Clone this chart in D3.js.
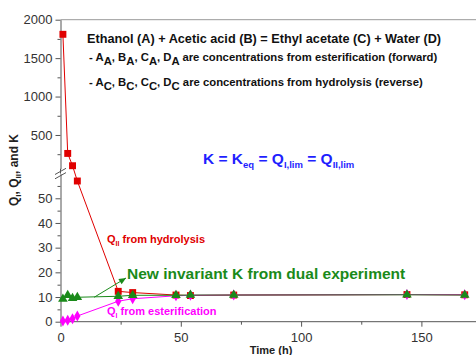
<!DOCTYPE html>
<html><head><meta charset="utf-8">
<script src="https://cdn.jsdelivr.net/npm/d3@7"></script>
<style>body{margin:0;background:#fff}svg{display:block;font-family:"Liberation Sans",Arial,sans-serif}</style>
</head><body><svg id="c" width="476" height="355"></svg>
<script>
const time = [1, 3, 5, 7, 24, 30, 48, 54, 72, 144, 168];
const qII  = [1810, 260, 100, 57, 12.3, 11.8, 10.8, 10.6, 10.8, 11.0, 10.9];
const kInv = [9.2, 10.7, 9.5, 9.9, 10.3, 10.7, 10.7, 10.8, 10.8, 10.9, 10.8];
const qI   = [0.3, 0.6, 1.2, 2.3, 8.3, 9.3, 10.5, 10.7, 10.8, 11.0, 10.9];
const xTicks = [0, 50, 100, 150];
const xMinor = [25, 75, 125, 175];
const yLowTicks = [0, 10, 20, 30, 40, 50];
const yLowMinor = [5, 15, 25, 35, 45, 55];
const yUpTicks = [500, 1000, 1500, 2000];
const yUpMinor = [250, 750, 1250, 1750];

const RED = "#e00000", GREEN = "#1a8a1a", MAG = "#ff00ff", BLUE = "#1f1fff", AX = "#555";
const svg = d3.select("#c");
const x = d3.scaleLinear().domain([0, 175]).range([60.5, 60.5 + 175 * 2.406]);
const yLow = d3.scaleLinear().domain([0, 60]).range([321.7, 173.6]);
const yUp = d3.scaleLinear().domain([60, 2000]).range([168.8, 19.7]);
const y = v => v <= 60 ? yLow(v) : yUp(v);
const fmt = d3.format("d");

// frame top
svg.append("line").attr("x1", x(0)).attr("x2", 476).attr("y1", yUp(2000)).attr("y2", yUp(2000)).attr("stroke", "#999").attr("stroke-width", 1);

function styleAxis(g) {
  g.selectAll("path,line").attr("stroke", AX);
  g.selectAll("text").attr("fill", "#333").style("font-size", "13px").style("font-family", '"Liberation Sans",Arial,sans-serif');
}
// x axis
const gx = svg.append("g").attr("transform", `translate(0,${yLow(0)})`)
  .call(d3.axisBottom(x).tickValues(xTicks).tickFormat(fmt).tickSize(5).tickSizeOuter(0).tickPadding(6));
styleAxis(gx);
gx.select(".domain").attr("d", `M${x(0)},0H476`);
svg.append("g").attr("transform", `translate(0,${yLow(0)})`)
  .call(d3.axisBottom(x).tickValues(xMinor).tickSize(3).tickFormat("")).call(g => g.select(".domain").remove()).call(styleAxis);

// y axes
const gyl = svg.append("g").attr("transform", `translate(${x(0)},0)`)
  .call(d3.axisLeft(yLow).tickValues(yLowTicks).tickFormat(fmt).tickSize(5).tickSizeOuter(0).tickPadding(3));
styleAxis(gyl);
svg.append("g").attr("transform", `translate(${x(0)},0)`)
  .call(d3.axisLeft(yLow).tickValues(yLowMinor).tickSize(3).tickFormat("")).call(g => g.select(".domain").remove()).call(styleAxis);
const gyu = svg.append("g").attr("transform", `translate(${x(0)},0)`)
  .call(d3.axisLeft(yUp).tickValues(yUpTicks).tickFormat(fmt).tickSize(5).tickSizeOuter(0).tickPadding(3));
styleAxis(gyu);
svg.append("g").attr("transform", `translate(${x(0)},0)`)
  .call(d3.axisLeft(yUp).tickValues(yUpMinor).tickSize(3).tickFormat("")).call(g => g.select(".domain").remove()).call(styleAxis);
// join axis across the break
svg.append("line").attr("x1", x(0)).attr("x2", x(0)).attr("y1", yUp(60)).attr("y2", yLow(60)).attr("stroke", AX);
// break marks
[[55, 174.5, 66, 168.3], [55, 178.8, 66, 172.6]].forEach(d =>
  svg.append("line").attr("x1", d[0]).attr("y1", d[1]).attr("x2", d[2]).attr("y2", d[3]).attr("stroke", AX).attr("stroke-width", 1));

// axis titles
svg.append("text").attr("x", x(87.5)).attr("y", 354).attr("text-anchor", "middle")
  .style("font-size", "11px").style("font-weight", "bold").attr("fill", "#222").text("Time (h)");
const yl = svg.append("text").attr("transform", "translate(18,170) rotate(-90)").attr("text-anchor", "middle")
  .style("font-size", "12px").style("font-weight", "bold").attr("fill", "#222");
yl.append("tspan").text("Q");
yl.append("tspan").attr("dy", 3).style("font-size", "8px").text("I");
yl.append("tspan").attr("dy", -3).text(", Q");
yl.append("tspan").attr("dy", 3).style("font-size", "8px").text("II");
yl.append("tspan").attr("dy", -3).text(", and K");

// series
const pts = arr => time.map((t, i) => [x(t), y(arr[i])]);
const line = d3.line();
function series(arr, color, symbolType, size) {
  svg.append("path").attr("d", line(pts(arr))).attr("fill", "none").attr("stroke", color).attr("stroke-width", 1);
  svg.append("g").selectAll("path").data(pts(arr)).join("path")
    .attr("transform", d => `translate(${d[0]},${d[1]})`)
    .attr("d", d3.symbol().type(symbolType).size(size)).attr("fill", color);
}
series(qII, RED, d3.symbolSquare, 48);
series(qI, MAG, d3.symbolDiamond, 34);
series(kInv, GREEN, d3.symbolTriangle, 40);

// green arrow to label
const ax0 = x(14), ay0 = y(9.9), ax1 = 126, ay1 = 278;
svg.append("line").attr("x1", ax0).attr("y1", ay0).attr("x2", ax1).attr("y2", ay1).attr("stroke", GREEN).attr("stroke-width", 1);
const ang = Math.atan2(ay1 - ay0, ax1 - ax0);
const hl = 7, hw = 3.2;
svg.append("path").attr("fill", GREEN).attr("d",
  `M${ax1},${ay1}L${ax1 - hl * Math.cos(ang) + hw * Math.sin(ang)},${ay1 - hl * Math.sin(ang) - hw * Math.cos(ang)}` +
  `L${ax1 - hl * Math.cos(ang) - hw * Math.sin(ang)},${ay1 - hl * Math.sin(ang) + hw * Math.cos(ang)}Z`);

// annotations
svg.append("text").attr("x", 127).attr("y", 279).attr("fill", GREEN)
  .style("font-size", "15.5px").style("font-weight", "bold").text("New invariant K from dual experiment");

const tr = svg.append("text").attr("x", 107).attr("y", 243).attr("fill", RED).style("font-size", "11px").style("font-weight", "bold");
tr.append("tspan").text("Q");
tr.append("tspan").attr("dy", 3).style("font-size", "7px").text("II");
tr.append("tspan").attr("dy", -3).text(" from hydrolysis");

const tm = svg.append("text").attr("x", 107).attr("y", 315).attr("fill", MAG).style("font-size", "11px").style("font-weight", "bold");
tm.append("tspan").text("Q");
tm.append("tspan").attr("dy", 3).style("font-size", "7px").text("I");
tm.append("tspan").attr("dy", -3).text(" from esterification");

const te = svg.append("text").attr("x", 203).attr("y", 164).attr("fill", BLUE).style("font-size", "15.5px").style("font-weight", "bold");
te.append("tspan").text("K = K");
te.append("tspan").attr("dy", 4).style("font-size", "9.5px").text("eq");
te.append("tspan").attr("dy", -4).text(" = Q");
te.append("tspan").attr("dy", 4).style("font-size", "9.5px").text("I,lim");
te.append("tspan").attr("dy", -4).text(" = Q");
te.append("tspan").attr("dy", 4).style("font-size", "9.5px").text("II,lim");

svg.append("text").attr("x", 87).attr("y", 43).attr("fill", "#111").style("font-size", "12.7px").style("font-weight", "bold")
  .text("Ethanol (A) + Acetic acid (B) = Ethyl acetate (C) + Water (D)");
function concLine(yy, L, tail) {
  const t = svg.append("text").attr("x", 89).attr("y", yy).attr("fill", "#111").style("font-size", "11.3px").style("font-weight", "bold");
  t.append("tspan").text("- ");
  ["A", "B", "C", "D"].forEach((c, i) => {
    t.append("tspan").text(c);
    t.append("tspan").attr("dy", 4).text(L);
    t.append("tspan").attr("dy", -4).text(i < 3 ? ", " : " ");
  });
  t.append("tspan").text(tail);
}
concLine(61, "A", "are concentrations from esterification (forward)");
concLine(86, "C", "are concentrations from hydrolysis (reverse)");
</script></body></html>
